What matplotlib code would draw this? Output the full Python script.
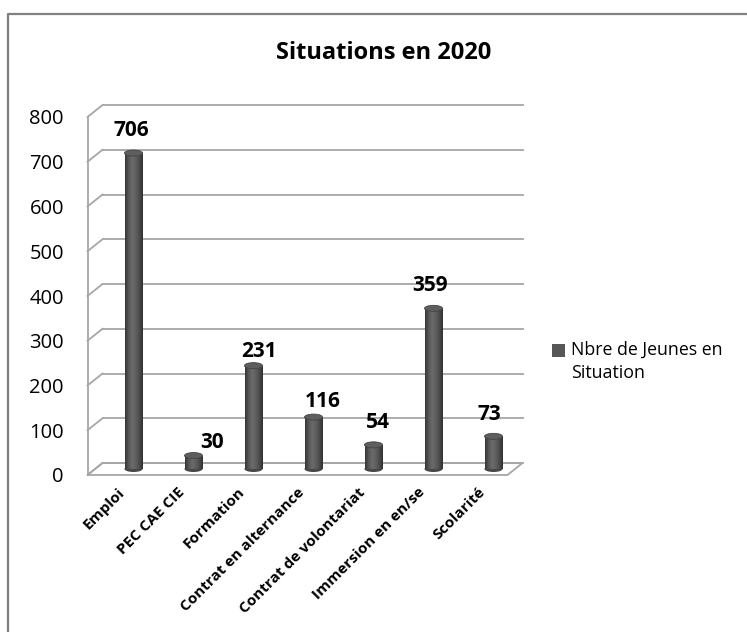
import numpy as np
import matplotlib
matplotlib.use("Agg")
import matplotlib.pyplot as plt
from matplotlib.patches import Ellipse, Rectangle, Polygon
from matplotlib.lines import Line2D
from matplotlib.colors import LinearSegmentedColormap
from matplotlib.transforms import ScaledTranslation
from matplotlib.legend_handler import HandlerPatch

# ---------------- data ----------------
categories = ["Emploi", "PEC CAE CIE", "Formation", "Contrat en alternance",
              "Contrat de volontariat", "Immersion en en/se", "Scolarité"]
values = [706, 30, 231, 116, 54, 359, 73]
series_name = "Nbre de Jeunes en\nSituation"
title = "Situations en 2020"
yticks = [0, 100, 200, 300, 400, 500, 600, 700, 800]

# ---------------- layout (pixels) ----------------
plt.rcParams["font.family"] = ["Open Sans", "DejaVu Sans"]
W, H = 747, 632
fig = plt.figure(figsize=(W / 100, H / 100), dpi=100)
fig.patch.set_facecolor("white")

FL, FR, F0, FT = 87.5, 507.5, 475.0, 117.0   # front plane of the 3D box
ax = fig.add_axes([FL / W, 1 - F0 / H, (FR - FL) / W, (F0 - FT) / H])
ncat = len(categories)
ymax = yticks[-1]
ax.set_xlim(0, ncat)
ax.set_ylim(0, ymax)
pxx = ncat / (FR - FL)
pxy = ymax / (F0 - FT)
ddx, ddy = 15 * pxx, 12 * pxy          # depth offset of back wall
for s in ax.spines.values():
    s.set_visible(False)
ax.patch.set_visible(False)

grid_c = "#a6a6a6"
glw = 1.3
# floor
floor = Polygon([(0, 0), (ncat, 0), (ncat + ddx, ddy), (ddx, ddy)], closed=True,
                facecolor="white", edgecolor=grid_c, lw=glw, clip_on=False, zorder=1)
ax.add_patch(floor)
# back-wall gridlines and side stubs
for v in yticks:
    ax.add_line(Line2D([ddx, ncat + ddx], [v + ddy, v + ddy], color=grid_c, lw=glw,
                       clip_on=False, zorder=1.5))
    ax.add_line(Line2D([0, ddx], [v, v + ddy], color=grid_c, lw=glw,
                       clip_on=False, zorder=1.5))
ax.add_line(Line2D([0, 0], [0, ymax], color=grid_c, lw=glw, clip_on=False, zorder=1.5))

# ---------------- cylinders ----------------
xc = np.arange(ncat) + 0.5 + 16 * pxx
base = 6 * pxy
bw = 18 * pxx
eh = 6 * pxy
bars = ax.bar(xc, values, width=bw, bottom=base, color="#575757", lw=0,
              zorder=3, clip_on=False)
cyl = LinearSegmentedColormap.from_list(
    "cyl", ["#363636", "#575757", "#6a6a6a", "#606060", "#4c4c4c", "#313131"])
grad = np.linspace(0, 1, 64).reshape(1, -1)
for b, x, v in zip(bars, xc, values):
    ax.add_patch(Ellipse((x, base), bw, eh, facecolor="#474747", edgecolor="none",
                         zorder=2.9, clip_on=False))
    im = ax.imshow(grad, extent=[x - bw / 2, x + bw / 2, base, base + v], aspect="auto",
                   cmap=cyl, zorder=3.1, interpolation="bilinear")
    im.set_clip_path(b)
    ax.add_patch(Ellipse((x, base + v), bw, eh, facecolor="#5e5e5e", edgecolor="#444444",
                         lw=0.6, zorder=3.3, clip_on=False))
ax.set_xlim(0, ncat)
ax.set_ylim(0, ymax)

# data labels (offsets in pixels: Excel 3D label placement)
label_off = [(-2, 20), (19, 10), (5, 11), (9, 13), (4, 19), (-3, 20), (-4, 19)]
for x, v, (ox, oy) in zip(xc, values, label_off):
    ax.annotate(str(v), xy=(x, base + v + eh / 2), xytext=(ox, oy),
                textcoords="offset pixels", ha="center", va="center",
                fontsize=15, fontweight="bold", color="black", zorder=5)

# axes ticks
ax.set_yticks(yticks)
ax.set_yticklabels([str(t) for t in yticks], fontsize=14.5)
ax.tick_params(axis="y", length=0, pad=17)
ax.set_xticks(np.arange(ncat) + 0.5)
ax.set_xticklabels(categories, rotation=45, ha="right", rotation_mode="anchor",
                   fontsize=11, fontweight="bold")
ax.tick_params(axis="x", length=0, pad=0)
shift = ScaledTranslation(0 / 100, -10 / 100, fig.dpi_scale_trans)
for lab in ax.get_xticklabels():
    lab.set_transform(lab.get_transform() + shift)

# title
fig.text(384 / W, 1 - 53 / H, title, ha="center", va="center",
         fontsize=17, fontweight="bold")

# legend (swatch aligned with the first line of the label)
def top_swatch(legend, orig_handle, xdescent, ydescent, width, height, fontsize):
    return Rectangle((-xdescent, -ydescent + 0.5 * fontsize * 1.35), width, height)

handle = Rectangle((0, 0), 1, 1, facecolor="#575757", edgecolor="none")
leg = ax.legend([handle], [series_name], loc="upper left",
                bbox_to_anchor=(552 / W, 1 - 341 / H), bbox_transform=fig.transFigure,
                frameon=False, fontsize=12.8, handlelength=0.72, handleheight=0.72,
                handletextpad=0.35, borderpad=0, borderaxespad=0, labelspacing=0,
                handler_map={Rectangle: HandlerPatch(patch_func=top_swatch)})
for t in leg.get_texts():
    t.set_linespacing(1.35)

# outer chart border (top and left visible)
fig.add_artist(Line2D([8 / W, 8 / W, 1.0], [0.0, 1 - 14 / H, 1 - 14 / H],
                      transform=fig.transFigure, color="#808080", lw=1.6))

fig.savefig("out.png", dpi=100)
